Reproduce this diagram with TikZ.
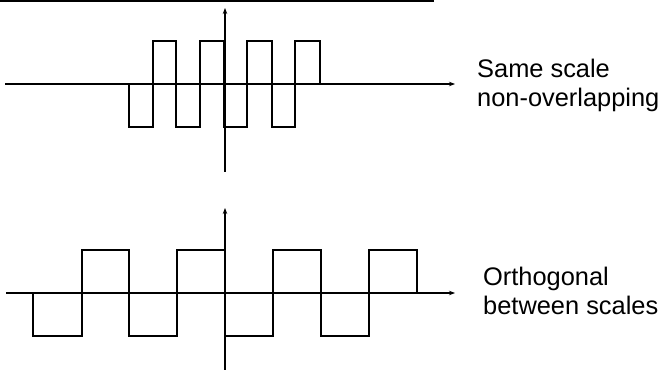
\documentclass[tikz,border=0pt]{standalone}
\usepackage{fontspec}
\setmainfont{Liberation Sans}
\usetikzlibrary{arrows.meta}
\begin{document}
\begin{tikzpicture}[x=1pt,y=-1pt,
  axis/.style={line width=1.1pt,-{Stealth[length=6pt,width=4.5pt]}},
  wave/.style={line width=2.9pt,line join=miter},
  lbl/.style={anchor=base west,inner sep=0pt,align=left,font=\fontsize{25.4}{29}\selectfont}]
\useasboundingbox (0,0) rectangle (662,371);
% top rule
\draw[line width=1.4pt] (0,1) -- (434,1);
% top panel axes
\draw[axis] (5,84) -- (455,84);
\draw[axis] (225,172) -- (225,8);
% top wave
\draw[wave] (129,84) -- (129,127) -- (153,127) -- (153,41) -- (176,41) -- (176,127)
  -- (200,127) -- (200,41) -- (224,41) -- (224,127) -- (247,127) -- (247,41)
  -- (272,41) -- (272,127) -- (295,127) -- (295,41) -- (320,41) -- (320,84);
% bottom panel axes
\draw[axis] (6,293) -- (455,293);
\draw[axis] (225,370) -- (225,208);
% bottom wave
\draw[wave] (33,293) -- (33,336) -- (82,336) -- (82,250) -- (129,250) -- (129,336)
  -- (177,336) -- (177,250) -- (225,250) -- (225,336) -- (273,336) -- (273,250)
  -- (321,250) -- (321,336) -- (369,336) -- (369,250) -- (417,250) -- (417,293);
% labels
\node[lbl] (t1) at (477,107) {Same scale\\non-overlapping};
\node[lbl] (t2) at (483,315) {Orthogonal\\between scales};
\end{tikzpicture}
\end{document}
